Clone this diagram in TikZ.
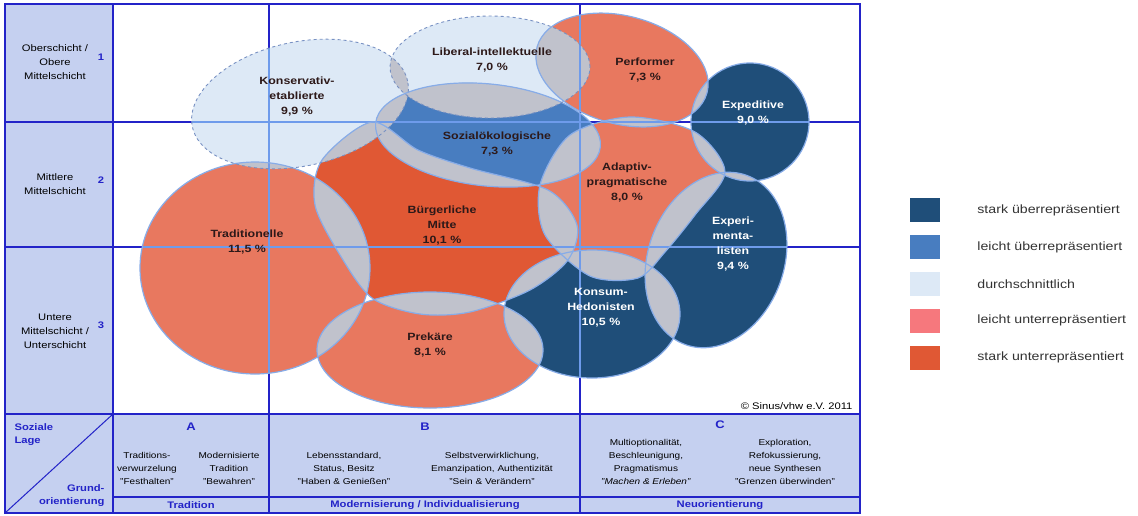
\documentclass[tikz,border=0pt]{standalone}
\usepackage{fontspec}
\setmainfont{Liberation Sans}[FakeStretch=1.18]
\usetikzlibrary{positioning}

\definecolor{frameblue}{RGB}{35,35,200}
\definecolor{gridblue}{RGB}{110,155,235}
\definecolor{cellblue}{RGB}{197,208,240}
\definecolor{navy}{RGB}{31,78,121}
\definecolor{midblue}{RGB}{72,125,192}
\definecolor{paleblue}{RGB}{221,233,246}
\definecolor{salmon}{RGB}{232,120,95}
\definecolor{pinkred}{RGB}{246,120,125}
\definecolor{strongred}{RGB}{224,88,52}
\definecolor{lensgrey}{RGB}{192,194,204}
\definecolor{rimblue}{RGB}{135,172,232}
\definecolor{dashblue}{RGB}{120,145,195}
\definecolor{textdark}{RGB}{45,25,25}

%% table grid (1pt = 1px of the chart, y downwards)
\newcommand{\leftx}{5}
\newcommand{\labx}{113}
\newcommand{\colab}{269}
\newcommand{\colbc}{580}
\newcommand{\rightx}{860}
\newcommand{\topy}{-4}
\newcommand{\rowone}{-122}
\newcommand{\rowtwo}{-247}
\newcommand{\rowthree}{-414}
\newcommand{\rowfour}{-497}
\newcommand{\boty}{-513}

%% milieu outlines
\newcommand{\shpKons}{(300,-104) ellipse [x radius=110, y radius=62, rotate=12]}
\newcommand{\shpLib}{(490,-67) ellipse [x radius=100, y radius=51]}
\newcommand{\shpPerf}{(622,-70) ellipse [x radius=88, y radius=54, rotate=-15]}
\newcommand{\shpExpe}{(750,-122) ellipse [x radius=59, y radius=59]}
\newcommand{\shpSoz}{(488,-135) ellipse [x radius=113, y radius=51, rotate=-6]}
\newcommand{\shpBuer}{plot[smooth cycle] coordinates {(372,-122) (418,-150) (470,-168) (548,-190) (577,-225) (568,-260) (530,-290) (470,-312) (420,-314) (372,-298) (340,-255) (315,-205) (322,-160)}}
\newcommand{\shpTrad}{(255,-268) ellipse [x radius=115, y radius=106]}
\newcommand{\shpPrek}{(430,-350) ellipse [x radius=113, y radius=58]}
\newcommand{\shpKonsum}{(592,-314) ellipse [x radius=88, y radius=64]}
\newcommand{\shpExpi}{(716,-260) ellipse [x radius=68, y radius=90, rotate=-20]}
\newcommand{\shpAdap}{plot[smooth cycle] coordinates {(630,-117) (695,-132) (725,-172) (695,-215) (665,-252) (638,-278) (590,-276) (545,-235) (540,-185) (570,-135)}}

\newcommand{\lens}[2]{\begin{scope}\clip #1; \fill[lensgrey] #2;\end{scope}}
\newcommand{\gridin}[1]{\begin{scope}\clip #1;
  \draw[gridline] (\leftx,\rowone) -- (\rightx,\rowone);
  \draw[gridline] (\leftx,\rowtwo) -- (\rightx,\rowtwo);
  \draw[gridline] (\colab,\topy) -- (\colab,\boty);
  \draw[gridline] (\colbc,\topy) -- (\colbc,\boty);\end{scope}}

\newcommand{\milfont}{\fontsize{10.5}{15}\selectfont\bfseries}
\newcommand{\rowfont}{\fontsize{9.5}{14}\selectfont}
\newcommand{\descfont}{\fontsize{8.5}{13}\selectfont}
\newcommand{\orientfont}{\fontsize{9.5}{13}\selectfont\bfseries}
\newcommand{\legendfont}{\fontsize{12}{14}\selectfont}

\begin{document}
\begin{tikzpicture}[x=1pt,y=1pt]
\tikzstyle{frame}=[draw=frameblue,line width=1.8pt]
\tikzstyle{gridline}=[draw=gridblue,line width=1.6pt]
\tikzstyle{rim}=[draw=rimblue,line width=1.2pt]
\tikzstyle{dashrim}=[draw=dashblue,line width=0.9pt,dashed]
\tikzstyle{milieu}=[align=center,font=\milfont,text=textdark]
\tikzstyle{milieuw}=[milieu,text=white]
\tikzstyle{rowlabel}=[align=center,font=\rowfont]
\tikzstyle{rownum}=[font=\orientfont,text=frameblue]
\tikzstyle{colletter}=[font=\fontsize{11}{13}\selectfont\bfseries,text=frameblue]
\tikzstyle{desc}=[align=center,font=\descfont]
\tikzstyle{orient}=[font=\orientfont,text=frameblue]
\tikzstyle{swatch}=[minimum width=30pt,minimum height=24pt,inner sep=0pt]
\tikzstyle{legendtext}=[anchor=west,font=\legendfont,text=black!80,inner sep=0pt]

\useasboundingbox (0,0) rectangle (1138,-515);
\fill[white] (0,0) rectangle (1138,-515);

%% label column and bottom cells
\fill[cellblue] (\leftx,\topy) rectangle (\labx,\boty);
\fill[cellblue] (\labx,\rowthree) rectangle (\rightx,\boty);

%% dark grid
\draw[frame] (\leftx,\topy) rectangle (\rightx,\boty);
\draw[frame] (\leftx,\rowone) -- (\rightx,\rowone);
\draw[frame] (\leftx,\rowtwo) -- (\rightx,\rowtwo);
\draw[frame] (\leftx,\rowthree) -- (\rightx,\rowthree);
\draw[frame] (\labx,\rowfour) -- (\rightx,\rowfour);
\draw[frame] (\labx,\topy) -- (\labx,\boty);
\draw[frame] (\colab,\topy) -- (\colab,\boty);
\draw[frame] (\colbc,\topy) -- (\colbc,\boty);

%% milieus
\fill[paleblue] \shpKons;
\fill[paleblue] \shpLib;
\fill[salmon] \shpPerf;
\fill[navy] \shpExpe;
\fill[midblue] \shpSoz;
\fill[strongred] \shpBuer;
\fill[salmon] \shpTrad;
\fill[salmon] \shpPrek;
\fill[navy] \shpKonsum;
\fill[navy] \shpExpi;
\fill[salmon] \shpAdap;

%% overlaps
\lens{\shpKons}{\shpLib}
\lens{\shpKons}{\shpSoz}
\lens{\shpKons}{\shpBuer}
\lens{\shpKons}{\shpTrad}
\lens{\shpLib}{\shpSoz}
\lens{\shpLib}{\shpPerf}
\lens{\shpPerf}{\shpSoz}
\lens{\shpPerf}{\shpAdap}
\lens{\shpPerf}{\shpExpe}
\lens{\shpSoz}{\shpBuer}
\lens{\shpSoz}{\shpAdap}
\lens{\shpBuer}{\shpTrad}
\lens{\shpBuer}{\shpPrek}
\lens{\shpBuer}{\shpAdap}
\lens{\shpBuer}{\shpKonsum}
\lens{\shpTrad}{\shpPrek}
\lens{\shpPrek}{\shpKonsum}
\lens{\shpKonsum}{\shpAdap}
\lens{\shpKonsum}{\shpExpi}
\lens{\shpAdap}{\shpExpi}
\lens{\shpAdap}{\shpExpe}
\lens{\shpExpe}{\shpExpi}

%% light grid over the milieus
\gridin{\shpKons}
\gridin{\shpLib}
\gridin{\shpPerf}
\gridin{\shpExpe}
\gridin{\shpSoz}
\gridin{\shpBuer}
\gridin{\shpTrad}
\gridin{\shpPrek}
\gridin{\shpKonsum}
\gridin{\shpExpi}
\gridin{\shpAdap}

%% rims
\draw[rim] \shpPerf;
\draw[rim] \shpExpe;
\draw[rim] \shpSoz;
\draw[rim] \shpBuer;
\draw[rim] \shpTrad;
\draw[rim] \shpPrek;
\draw[rim] \shpKonsum;
\draw[rim] \shpExpi;
\draw[rim] \shpAdap;
\draw[dashrim] \shpKons;
\draw[dashrim] \shpLib;

%% milieu labels
\node[milieu] (kons) at (297,-97) {Konservativ-\\etablierte\\9,9 \%};
\node[milieu] (lib) at (492,-60) {Liberal-intellektuelle\\7,0 \%};
\node[milieu] (perf) at (645,-70) {Performer\\7,3 \%};
\node[milieuw] (expe) at (753,-113) {Expeditive\\9,0 \%};
\node[milieu] (soz) at (497,-144) {Sozialökologische\\7,3 \%};
\node[milieu] (adap) at (627,-183) {Adaptiv-\\pragmatische\\8,0 \%};
\node[milieu] (buer) at (442,-226) {Bürgerliche\\Mitte\\10,1 \%};
\node[milieu] (trad) at (247,-242) {Traditionelle\\11,5 \%};
\node[milieuw] (expi) at (733,-244) {Experi-\\menta-\\listen\\9,4 \%};
\node[milieuw] (konsum) at (601,-308) {Konsum-\\Hedonisten\\10,5 \%};
\node[milieu] (prek) at (430,-345) {Prekäre\\8,1 \%};
\node[anchor=east,font=\rowfont] (copy) at (856,-406) {© Sinus/vhw e.V. 2011};

%% row labels
\node[rowlabel] (ober) at (55,-62) {Oberschicht /\\Obere\\Mittelschicht};
\node[rownum] (num1) at (101,-57) {1};
\node[rowlabel] (mittel) at (55,-184) {Mittlere\\Mittelschicht};
\node[rownum] (num2) at (101,-180) {2};
\node[rowlabel] (unter) at (55,-331) {Untere\\Mittelschicht /\\Unterschicht};
\node[rownum] (num3) at (101,-325) {3};

%% corner cell
\coordinate (diagfoot) at (\leftx,\boty);
\coordinate (diaghead) at (\labx,\rowthree);
\draw[frameblue,line width=1pt] (diagfoot) -- (diaghead);
\node[orient,align=left,anchor=north west] (lage) at (11,-420) {Soziale\\Lage};
\node[orient,align=right,anchor=south east] (grund) at (108,-510) {Grund-\\orientierung};

%% basic orientation
\node[colletter] (colA) at (191,-427) {A};
\node[colletter] (colB) at (425,-427) {B};
\node[colletter] (colC) at (720,-425) {C};
\node[desc] (descA1) at (147,-468) {Traditions-\\verwurzelung\\"Festhalten"};
\node[desc] (descA2) at (229,-468) {Modernisierte\\Tradition\\"Bewahren"};
\node[desc] (descB1) at (344,-468) {Lebensstandard,\\Status, Besitz\\"Haben \& Genießen"};
\node[desc] (descB2) at (492,-468) {Selbstverwirklichung,\\Emanzipation, Authentizität\\"Sein \& Verändern"};
\node[desc] (descC1) at (646,-462) {Multioptionalität,\\Beschleunigung,\\Pragmatismus\\\textit{"Machen \& Erleben"}};
\node[desc] (descC2) at (785,-462) {Exploration,\\Refokussierung,\\neue Synthesen\\"Grenzen überwinden"};
\node[orient] (tradition) at (191,-505) {Tradition};
\node[orient] (modern) at (425,-505) {Modernisierung / Individualisierung};
\node[orient] (neuor) at (720,-505) {Neuorientierung};

%% legend
\node[swatch,fill=navy] (sw1) at (925,-210) {};
\node[swatch,fill=midblue,below=12.5pt of sw1] (sw2) {};
\node[swatch,fill=paleblue,below=12.5pt of sw2] (sw3) {};
\node[swatch,fill=pinkred,below=12.5pt of sw3] (sw4) {};
\node[swatch,fill=strongred,below=12.5pt of sw4] (sw5) {};
\node[legendtext,right=37pt of sw1] (lg1) {stark überrepräsentiert};
\node[legendtext,right=37pt of sw2] (lg2) {leicht überrepräsentiert};
\node[legendtext,right=37pt of sw3] (lg3) {durchschnittlich};
\node[legendtext,right=37pt of sw4] (lg4) {leicht unterrepräsentiert};
\node[legendtext,right=37pt of sw5] (lg5) {stark unterrepräsentiert};

\end{tikzpicture}
\end{document}
